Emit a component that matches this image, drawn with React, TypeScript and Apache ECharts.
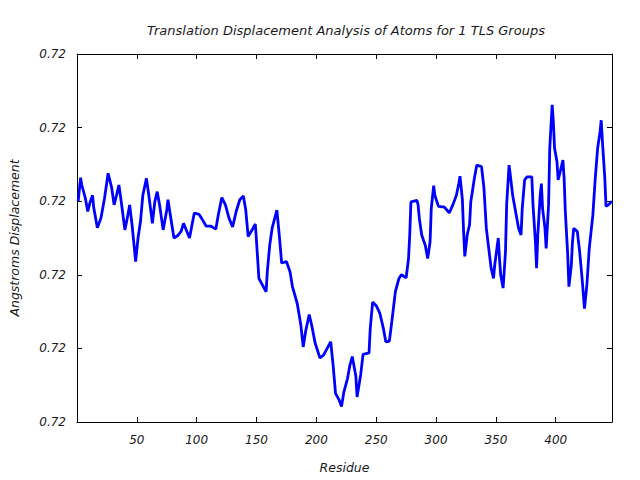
import React, { useEffect, useRef } from "react";
import * as echarts from "echarts";

const chartTitle = "Translation Displacement Analysis of Atoms for 1 TLS Groups";
const xAxisName = "Residue";
const yAxisName = "Angstroms Displacement";

const residues = [
  1, 3, 4, 7, 9, 11, 13, 14, 17, 20, 23, 26, 29, 31, 33, 35, 37, 40, 42, 44,
  46, 49, 51, 53, 55, 58, 60, 63, 65, 67, 69, 72, 75, 76, 78, 81, 84, 87, 89,
  94, 98, 102, 104, 108, 112, 116, 118, 121, 124, 127, 130, 133, 136, 139, 141,
  143, 147, 149, 150, 152, 155, 158, 159, 161, 163, 167, 169, 171, 175, 178, 180,
  184, 187, 189, 191, 194, 196, 199, 203, 206, 209, 212, 214, 216, 219, 221, 223,
  226, 228, 230, 233, 234, 237, 239, 244, 245, 247, 250, 253, 256, 258, 261, 263,
  266, 269,
  271, 275, 277, 278, 279, 284, 285, 286, 288, 291, 293, 295, 296, 298, 299, 302,
  307, 311, 314, 317, 319, 320, 322, 323, 324, 326, 328, 329, 332, 334, 338, 340,
  342, 344, 346, 348, 349, 352, 353, 354, 356, 358, 359, 361, 362, 364, 367, 369,
  371, 372, 374, 376, 380, 381, 383, 384, 385, 387, 388, 389, 391, 392, 394, 395,
  397, 398, 399, 401, 402, 404, 406, 407, 408, 410, 411, 413, 414, 415, 418, 420,
  422, 424, 426, 428, 431, 433, 435, 437, 438, 439, 441, 442, 444, 447,
];

const displacement = [
  0.722, 0.72232, 0.72222, 0.72204, 0.72186, 0.72199, 0.72208, 0.72191, 0.72164, 0.72177, 0.72204, 0.72238, 0.72218, 0.72195, 0.72208, 0.72222, 0.72199, 0.72161, 0.72177, 0.72195,
  0.72168, 0.72118, 0.7215, 0.72172, 0.72208, 0.72231, 0.72208, 0.7217, 0.72199, 0.72213, 0.72195, 0.72161, 0.72188, 0.72202, 0.72181, 0.7215, 0.72153, 0.72159, 0.7217,
  0.7215, 0.72184, 0.72182, 0.72177, 0.72166, 0.72166, 0.72162, 0.72181, 0.72205, 0.72195, 0.72177, 0.72165, 0.72186, 0.72202, 0.72207, 0.72188,
  0.72152, 0.72163, 0.72169, 0.72145, 0.72095, 0.72086, 0.72077, 0.72104, 0.7214, 0.72163, 0.72188, 0.72154, 0.72116, 0.72118, 0.72104, 0.72084,
  0.72061, 0.72032, 0.72002, 0.72023, 0.72046, 0.72032, 0.72007, 0.71987, 0.71991, 0.72, 0.72009, 0.71977, 0.71939, 0.7193, 0.71921, 0.71941,
  0.71959, 0.71977, 0.71989, 0.71962, 0.71934, 0.71964, 0.71992, 0.71994, 0.72027, 0.72063, 0.72058, 0.72048, 0.72027, 0.72009, 0.7201, 0.72036,
  0.72077, 0.72095,
  0.721, 0.72096, 0.72122, 0.72154, 0.72199, 0.72201, 0.72195, 0.72177, 0.72154, 0.7214, 0.72122, 0.72145, 0.7219, 0.72221, 0.72208, 0.72193,
  0.72192, 0.72184, 0.72195, 0.72208, 0.72224, 0.72234, 0.72202, 0.72159, 0.72125, 0.72154, 0.72168, 0.72199, 0.72231, 0.72249, 0.72247, 0.72218,
  0.72163, 0.72136, 0.72109, 0.72095, 0.72113, 0.7215, 0.72122, 0.721, 0.72082, 0.72131, 0.72196, 0.72249, 0.72236, 0.72208, 0.72181, 0.72163,
  0.72154, 0.7219, 0.72229, 0.72233, 0.72233, 0.72195, 0.72145, 0.72109, 0.72154, 0.72208, 0.72224, 0.7219, 0.72163, 0.72136, 0.72195, 0.72272,
  0.72331, 0.72308, 0.72272, 0.72254, 0.72229, 0.72242, 0.72256, 0.72231, 0.72186, 0.72127, 0.72084, 0.72113, 0.72145, 0.72163, 0.72159, 0.72131,
  0.72095, 0.72054, 0.72086, 0.72136, 0.72181, 0.72231, 0.72272, 0.72294, 0.7231, 0.72281, 0.72231, 0.72193, 0.72195, 0.722,
];

const FONT = "DejaVu Sans";
const TEXT = "#1a1a1a";

export default function App() {
  const ref = useRef<HTMLDivElement>(null);
  useEffect(() => {
    if (!ref.current) return;
    const chart = echarts.init(ref.current, null, { renderer: "svg" });
    const n = Math.min(residues.length, displacement.length);
    const data: [number, number][] = [];
    for (let i = 0; i < n; i++) data.push([residues[i], displacement[i]]);

    const xCommon = {
      type: "value" as const,
      min: 0,
      max: 447,
      interval: 50,
      splitLine: { show: false },
      axisLine: { show: true, onZero: false, lineStyle: { color: "#000", width: 1 } },
      axisTick: { show: true, inside: true, length: 5, lineStyle: { color: "#000" } },
    };
    const yCommon = {
      type: "value" as const,
      min: 0.719,
      max: 0.724,
      interval: 0.001,
      splitLine: { show: false },
      axisLine: { show: true, onZero: false, lineStyle: { color: "#000", width: 1 } },
      axisTick: { show: true, inside: true, length: 5, lineStyle: { color: "#000" } },
    };

    chart.setOption({
      animation: false,
      backgroundColor: "#fff",
      title: {
        text: chartTitle,
        left: 341,
        textAlign: "center",
        top: 19,
        textStyle: { fontFamily: FONT, fontStyle: "italic", fontWeight: "normal", fontSize: 13, color: TEXT },
      },
      grid: { left: 76, right: 28, top: 54, bottom: 58, containLabel: false },
      xAxis: [
        {
          ...xCommon,
          position: "bottom",
          name: xAxisName,
          nameLocation: "middle",
          nameGap: 39,
          nameTextStyle: { fontFamily: FONT, fontStyle: "italic", fontSize: 12.5, color: TEXT },
          axisLabel: {
            fontFamily: FONT,
            fontStyle: "italic",
            fontSize: 12,
            color: TEXT,
            margin: 12,
            showMaxLabel: false,
            formatter: (v: number) => (v === 0 ? "" : String(v)),
          },
        },
        { ...xCommon, position: "top", axisLabel: { show: false } },
      ],
      yAxis: [
        {
          ...yCommon,
          position: "left",
          name: yAxisName,
          nameLocation: "middle",
          nameGap: 56,
          nameTextStyle: { fontFamily: FONT, fontStyle: "italic", fontSize: 12.5, color: TEXT },
          axisLabel: {
            fontFamily: FONT,
            fontStyle: "italic",
            fontSize: 12,
            color: TEXT,
            margin: 11,
            formatter: (v: number) => v.toFixed(2),
          },
        },
        { ...yCommon, position: "right", axisLabel: { show: false } },
      ],
      series: [
        {
          type: "line",
          data,
          xAxisIndex: 0,
          yAxisIndex: 0,
          showSymbol: false,
          symbol: "none",
          lineStyle: { color: "#0000ff", width: 2.8 },
          silent: true,
        },
      ],
    });
    return () => chart.dispose();
  }, []);

  return (
    <div
      ref={ref}
      style={{ position: "fixed", left: 0, top: 0, width: 640, height: 480 }}
    />
  );
}
